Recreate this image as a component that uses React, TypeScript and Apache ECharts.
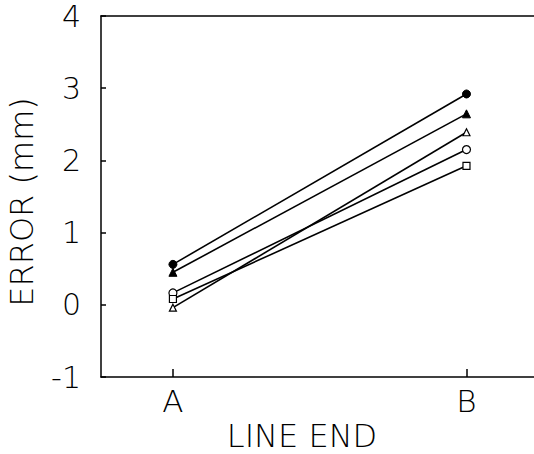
import React, { useEffect, useRef } from "react";
import * as echarts from "echarts";

const categories = ["A", "B"];
const yTicks = [-1, 0, 1, 2, 3, 4];
const filledCircle = [0.56, 2.92];
const filledTriangle = [0.45, 2.645];
const openTriangle = [-0.04, 2.39];
const openCircle = [0.165, 2.15];
const openSquare = [0.08, 1.925];

const FONT = "'DejaVu Sans', 'Liberation Sans', sans-serif";

export default function App() {
  const ref = useRef<HTMLDivElement>(null);
  useEffect(() => {
    if (!ref.current) return;
    const chart = echarts.init(ref.current, null, { renderer: "svg" });
    const pts = (vals: number[]) => vals.map((v, i) => [i, v]);
    const mk = (name: string, vals: number[], symbol: string, size: number, filled: boolean) => ({
      name,
      type: "line",
      data: pts(vals),
      symbol,
      symbolSize: size,
      showSymbol: true,
      lineStyle: { color: "#000", width: 1.6 },
      itemStyle: filled
        ? { color: "#000", borderColor: "#000", borderWidth: 1 }
        : { color: "#fff", borderColor: "#000", borderWidth: 1.2 },
      z: 3,
    });
    chart.setOption({
      animation: false,
      backgroundColor: "#fff",
      grid: { left: 101, right: 0, top: 16, bottom: 77, containLabel: false },
      xAxis: [
        {
          type: "value",
          min: -0.245,
          max: 1.23,
          axisLine: { show: true, onZero: false, lineStyle: { color: "#000", width: 1.5 } },
          axisTick: {
            show: true,
            inside: true,
            length: 8,
            customValues: [0, 1],
            lineStyle: { color: "#000", width: 1.5 },
          },
          axisLabel: {
            customValues: [0, 1],
            formatter: (v: number) => categories[Math.round(v)] ?? "",
            color: "#000",
            fontSize: 31,
            fontFamily: FONT,
            fontWeight: 300,
            margin: 8,
          },
          splitLine: { show: false },
        },
        {
          type: "value",
          position: "top",
          min: -0.245,
          max: 1.23,
          axisLine: { show: true, onZero: false, lineStyle: { color: "#000", width: 1.5 } },
          axisTick: { show: false },
          axisLabel: { show: false },
          splitLine: { show: false },
        },
      ],
      yAxis: {
        type: "value",
        min: yTicks[0],
        max: yTicks[yTicks.length - 1],
        interval: 1,
        axisLine: { show: true, onZero: false, lineStyle: { color: "#000", width: 1.5 } },
        axisTick: { show: true, inside: true, length: 5, lineStyle: { color: "#000", width: 1.5 } },
        axisLabel: {
          color: "#000",
          fontSize: 30,
          fontFamily: FONT,
          fontWeight: 300,
          margin: 20,
          padding: [5, 0, 0, 0],
        },
        splitLine: { show: false },
      },
      graphic: [
        {
          type: "text",
          x: 22,
          y: 202,
          rotation: Math.PI / 2,
          style: {
            text: "ERROR (mm)",
            font: `300 32px ${FONT}`,
            fill: "#000",
            align: "center",
            verticalAlign: "middle",
          },
        },
        {
          type: "text",
          x: 302,
          y: 436,
          style: {
            text: "LINE END",
            font: `300 32px ${FONT}`,
            fill: "#000",
            align: "center",
            verticalAlign: "middle",
          },
        },
      ],
      series: [
        mk("filled circle", filledCircle, "circle", 8, true),
        mk("filled triangle", filledTriangle, "triangle", 8, true),
        mk("open triangle", openTriangle, "triangle", 7, false),
        mk("open circle", openCircle, "circle", 8, false),
        mk("open square", openSquare, "rect", 7, false),
      ],
    });
    return () => chart.dispose();
  }, []);
  return (
    <div
      ref={ref}
      style={{ position: "fixed", left: 0, top: 0, width: 534, height: 454, background: "#fff" }}
    />
  );
}
